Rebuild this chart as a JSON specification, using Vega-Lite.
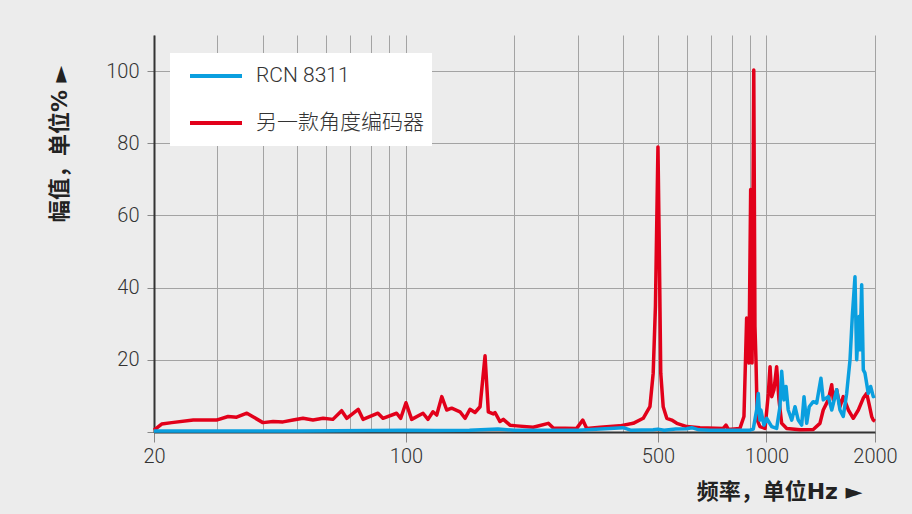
{
  "$schema": "https://vega.github.io/schema/vega-lite/v6.json",
  "width": 721,
  "height": 397,
  "autosize": {"type": "none"},
  "padding": {"left": 154, "top": 35, "right": 37, "bottom": 82},
  "background": "#ececec",
  "config": {
    "font": "Roboto, Noto Sans CJK SC",
    "view": {"stroke": null},
    "axis": {"gridColor": "#a3a3a3", "gridWidth": 1, "gridOpacity": 1, "domainColor": "#333333", "domainWidth": 2, "tickColor": "#888888", "labelFontSize": 20, "labelFontWeight": 300, "labelColor": "#333333", "labelFont": "Roboto, Noto Sans CJK SC", "titleFont": "DejaVu Sans, Noto Sans CJK SC", "titleFontSize": 22, "titleFontWeight": "bold", "titleColor": "#222222"}
  },
  "data": {"values": [
    {"f":20,"a":0.5,"s":"另一款角度编码器"},{"f":21,"a":2.2,"s":"另一款角度编码器"},{"f":22.4,"a":2.6,"s":"另一款角度编码器"},{"f":25.7,"a":3.3,"s":"另一款角度编码器"},{"f":29.8,"a":3.3,"s":"另一款角度编码器"},{"f":32.1,"a":4.3,"s":"另一款角度编码器"},{"f":33.9,"a":4.1,"s":"另一款角度编码器"},{"f":36.2,"a":5.2,"s":"另一款角度编码器"},{"f":40.1,"a":2.6,"s":"另一款角度编码器"},{"f":42.8,"a":2.9,"s":"另一款角度编码器"},{"f":45.6,"a":2.8,"s":"另一款角度编码器"},{"f":48.6,"a":3.3,"s":"另一款角度编码器"},{"f":51.8,"a":3.8,"s":"另一款角度编码器"},{"f":55.2,"a":3.3,"s":"另一款角度编码器"},{"f":58.9,"a":3.8,"s":"另一款角度编码器"},{"f":62.7,"a":3.5,"s":"另一款角度编码器"},{"f":66.3,"a":5.9,"s":"另一款角度编码器"},{"f":68.5,"a":3.8,"s":"另一款角度编码器"},{"f":73.7,"a":6.3,"s":"另一款角度编码器"},{"f":76,"a":3.5,"s":"另一款角度编码器"},{"f":83.6,"a":5.2,"s":"另一款角度编码器"},{"f":86.3,"a":3.8,"s":"另一款角度编码器"},{"f":94.2,"a":5.2,"s":"另一款角度编码器"},{"f":96.7,"a":3.8,"s":"另一款角度编码器"},{"f":100,"a":8.1,"s":"另一款角度编码器"},{"f":103.7,"a":3.5,"s":"另一款角度编码器"},{"f":111.5,"a":5.2,"s":"另一款角度编码器"},{"f":115.1,"a":3.5,"s":"另一款角度编码器"},{"f":118.8,"a":5.6,"s":"另一款角度编码器"},{"f":121.7,"a":4.7,"s":"另一款角度编码器"},{"f":125.7,"a":9.8,"s":"另一款角度编码器"},{"f":129.7,"a":6.1,"s":"另一款角度编码器"},{"f":133.9,"a":6.6,"s":"另一款角度编码器"},{"f":141.2,"a":5.6,"s":"另一款角度编码器"},{"f":145.8,"a":3.8,"s":"另一款角度编码器"},{"f":150.5,"a":6.3,"s":"另一款角度编码器"},{"f":155.4,"a":5.4,"s":"另一款角度编码器"},{"f":160.5,"a":7.0,"s":"另一款角度编码器"},{"f":165.7,"a":21.1,"s":"另一款角度编码器"},{"f":169.2,"a":5.6,"s":"另一款角度编码器"},{"f":174.7,"a":5.0,"s":"另一款角度编码器"},{"f":176.6,"a":5.4,"s":"另一款角度编码器"},{"f":182.3,"a":2.9,"s":"另一款角度编码器"},{"f":186.2,"a":3.5,"s":"另一款角度编码器"},{"f":194.3,"a":1.9,"s":"另一款角度编码器"},{"f":202.8,"a":1.7,"s":"另一款角度编码器"},{"f":225.4,"a":1.3,"s":"另一款角度编码器"},{"f":248.2,"a":2.4,"s":"另一款角度编码器"},{"f":256.2,"a":1.1,"s":"另一款角度编码器"},{"f":297.6,"a":1.0,"s":"另一款角度编码器"},{"f":309.3,"a":3.3,"s":"另一款角度编码器"},{"f":317.2,"a":1.0,"s":"另一款角度编码器"},{"f":345.5,"a":1.3,"s":"另一款角度编码器"},{"f":392,"a":1.7,"s":"另一款角度编码器"},{"f":427,"a":2.4,"s":"另一款角度编码器"},{"f":455,"a":3.8,"s":"另一款角度编码器"},{"f":475,"a":7.0,"s":"另一款角度编码器"},{"f":485,"a":16.3,"s":"另一款角度编码器"},{"f":492,"a":34.8,"s":"另一款角度编码器"},{"f":500,"a":79,"s":"另一款角度编码器"},{"f":504,"a":53,"s":"另一款角度编码器"},{"f":509,"a":16.3,"s":"另一款角度编码器"},{"f":517,"a":7.0,"s":"另一款角度编码器"},{"f":529,"a":3.8,"s":"另一款角度编码器"},{"f":546,"a":3.3,"s":"另一款角度编码器"},{"f":564,"a":2.4,"s":"另一款角度编码器"},{"f":601,"a":1.5,"s":"另一款角度编码器"},{"f":654,"a":1.2,"s":"另一款角度编码器"},{"f":759,"a":1.0,"s":"另一款角度编码器"},{"f":772,"a":1.9,"s":"另一款角度编码器"},{"f":784,"a":0.7,"s":"另一款角度编码器"},{"f":844,"a":1.0,"s":"另一款角度编码器"},{"f":866,"a":4.3,"s":"另一款角度编码器"},{"f":881,"a":31.6,"s":"另一款角度编码器"},{"f":894,"a":19.1,"s":"另一款角度编码器"},{"f":904,"a":67.2,"s":"另一款角度编码器"},{"f":912,"a":19.1,"s":"另一款角度编码器"},{"f":922,"a":100.3,"s":"另一款角度编码器"},{"f":929,"a":29.3,"s":"另一款角度编码器"},{"f":935,"a":20,"s":"另一款角度编码器"},{"f":943,"a":3.3,"s":"另一款角度编码器"},{"f":959,"a":1.5,"s":"另一款角度编码器"},{"f":991,"a":1.0,"s":"另一款角度编码器"},{"f":1012,"a":10.7,"s":"另一款角度编码器"},{"f":1023,"a":18.1,"s":"另一款角度编码器"},{"f":1034,"a":9.8,"s":"另一款角度编码器"},{"f":1049,"a":11.7,"s":"另一款角度编码器"},{"f":1067,"a":18.1,"s":"另一款角度编码器"},{"f":1083,"a":8.9,"s":"另一款角度编码器"},{"f":1102,"a":2.4,"s":"另一款角度编码器"},{"f":1138,"a":1.0,"s":"另一款角度编码器"},{"f":1239,"a":0.6,"s":"另一款角度编码器"},{"f":1348,"a":0.7,"s":"另一款角度编码器"},{"f":1407,"a":2.4,"s":"另一款角度编码器"},{"f":1437,"a":6.1,"s":"另一款角度编码器"},{"f":1484,"a":8.9,"s":"另一款角度编码器"},{"f":1517,"a":13.1,"s":"另一款角度编码器"},{"f":1532,"a":8.9,"s":"另一款角度编码器"},{"f":1566,"a":11.7,"s":"另一款角度编码器"},{"f":1599,"a":7.0,"s":"另一款角度编码器"},{"f":1633,"a":9.8,"s":"另一款角度编码器"},{"f":1687,"a":6.1,"s":"另一款角度编码器"},{"f":1741,"a":3.8,"s":"另一款角度编码器"},{"f":1798,"a":6.1,"s":"另一款角度编码器"},{"f":1856,"a":9.4,"s":"另一款角度编码器"},{"f":1897,"a":10.7,"s":"另一款角度编码器"},{"f":1928,"a":7.5,"s":"另一款角度编码器"},{"f":1958,"a":4.3,"s":"另一款角度编码器"},{"f":1978,"a":3.3,"s":"另一款角度编码器"},{"f":2000,"a":3.0,"s":"另一款角度编码器"},
    {"f":20,"a":0.3,"s":"RCN 8311"},{"f":30,"a":0.3,"s":"RCN 8311"},{"f":50,"a":0.3,"s":"RCN 8311"},{"f":80,"a":0.4,"s":"RCN 8311"},{"f":100,"a":0.5,"s":"RCN 8311"},{"f":120,"a":0.4,"s":"RCN 8311"},{"f":150,"a":0.5,"s":"RCN 8311"},{"f":180,"a":0.8,"s":"RCN 8311"},{"f":200,"a":0.5,"s":"RCN 8311"},{"f":300,"a":0.5,"s":"RCN 8311"},{"f":400,"a":1.2,"s":"RCN 8311"},{"f":420,"a":0.5,"s":"RCN 8311"},{"f":485,"a":0.6,"s":"RCN 8311"},{"f":500,"a":0.8,"s":"RCN 8311"},{"f":520,"a":0.5,"s":"RCN 8311"},{"f":560,"a":0.8,"s":"RCN 8311"},{"f":600,"a":0.9,"s":"RCN 8311"},{"f":620,"a":1.2,"s":"RCN 8311"},{"f":650,"a":0.6,"s":"RCN 8311"},{"f":700,"a":0.5,"s":"RCN 8311"},{"f":800,"a":0.5,"s":"RCN 8311"},{"f":900,"a":0.5,"s":"RCN 8311"},{"f":919,"a":0.8,"s":"RCN 8311"},{"f":939,"a":6.1,"s":"RCN 8311"},{"f":949,"a":10.7,"s":"RCN 8311"},{"f":959,"a":3.3,"s":"RCN 8311"},{"f":965,"a":6.1,"s":"RCN 8311"},{"f":984,"a":1.9,"s":"RCN 8311"},{"f":1001,"a":3.8,"s":"RCN 8311"},{"f":1034,"a":1.5,"s":"RCN 8311"},{"f":1067,"a":1.0,"s":"RCN 8311"},{"f":1090,"a":7.0,"s":"RCN 8311"},{"f":1102,"a":16.8,"s":"RCN 8311"},{"f":1118,"a":8.9,"s":"RCN 8311"},{"f":1133,"a":12.6,"s":"RCN 8311"},{"f":1149,"a":6.1,"s":"RCN 8311"},{"f":1175,"a":3.3,"s":"RCN 8311"},{"f":1200,"a":7.0,"s":"RCN 8311"},{"f":1225,"a":3.3,"s":"RCN 8311"},{"f":1252,"a":1.9,"s":"RCN 8311"},{"f":1271,"a":9.8,"s":"RCN 8311"},{"f":1293,"a":2.4,"s":"RCN 8311"},{"f":1314,"a":7.0,"s":"RCN 8311"},{"f":1348,"a":8.4,"s":"RCN 8311"},{"f":1378,"a":8.0,"s":"RCN 8311"},{"f":1416,"a":14.9,"s":"RCN 8311"},{"f":1437,"a":8.9,"s":"RCN 8311"},{"f":1484,"a":9.8,"s":"RCN 8311"},{"f":1517,"a":6.1,"s":"RCN 8311"},{"f":1566,"a":11.7,"s":"RCN 8311"},{"f":1599,"a":6.1,"s":"RCN 8311"},{"f":1633,"a":4.3,"s":"RCN 8311"},{"f":1669,"a":10.7,"s":"RCN 8311"},{"f":1705,"a":20,"s":"RCN 8311"},{"f":1730,"a":32,"s":"RCN 8311"},{"f":1760,"a":43,"s":"RCN 8311"},{"f":1779,"a":20,"s":"RCN 8311"},{"f":1806,"a":32,"s":"RCN 8311"},{"f":1817,"a":22.8,"s":"RCN 8311"},{"f":1837,"a":40.8,"s":"RCN 8311"},{"f":1856,"a":17.2,"s":"RCN 8311"},{"f":1876,"a":16.3,"s":"RCN 8311"},{"f":1916,"a":10.7,"s":"RCN 8311"},{"f":1945,"a":12.6,"s":"RCN 8311"},{"f":1978,"a":9.8,"s":"RCN 8311"},{"f":2000,"a":10,"s":"RCN 8311"}
  ]},
  "resolve": {"axis": {"x": "independent", "y": "independent"}},
  "layer": [
    {"transform": [{"filter": "datum.s == '另一款角度编码器'"}],
     "mark": {"type": "line", "strokeWidth": 3.5, "strokeJoin": "round"},
     "encoding": {
       "x": {"field": "f", "type": "quantitative", "scale": {"type": "log", "domain": [20, 2000], "nice": false},
         "axis": {"orient": "bottom", "values": [20,30,40,50,60,70,80,90,100,200,300,400,500,600,700,800,900,1000,2000], "grid": true, "gridColor": "#a3a3a3", "labels": false, "ticks": false, "domain": false, "title": null}},
       "y": {"field": "a", "type": "quantitative", "scale": {"domain": [0, 110], "nice": false},
         "axis": {"orient": "left", "values": [20, 40, 60, 80, 100], "grid": true, "gridColor": "#a3a3a3", "labels": false, "ticks": false, "domain": false, "title": null}},
       "color": {"field": "s", "type": "nominal",
         "scale": {"domain": ["RCN 8311", "另一款角度编码器"], "range": ["#0a9fdf", "#e2001a"]},
         "legend": {"title": null, "orient": "none", "legendX": 16, "legendY": 18, "fillColor": "white", "padding": 8, "clipHeight": 30, "rowPadding": 17, "symbolType": "stroke", "symbolSize": 2704, "symbolStrokeWidth": 4, "symbolOffset": 10, "labelFontSize": 21, "labelFontWeight": 300, "labelLimit": 400, "labelColor": "#333333", "labelFont": "Roboto, Noto Sans CJK SC", "labelOffset": 12}}
     }},
    {"transform": [{"filter": "datum.s == 'RCN 8311'"}],
     "mark": {"type": "line", "strokeWidth": 3.5, "strokeJoin": "round"},
     "encoding": {
       "x": {"field": "f", "type": "quantitative",
         "axis": {"orient": "bottom", "values": [20, 100, 500, 1000, 2000], "format": "d", "grid": false, "tickSize": 10, "labelPadding": 4, "labelFlush": false,
           "title": "频率，单位Hz  ►", "titleAnchor": "end", "titleAlign": "right", "titleX": 708, "titleY": 59, "titleBaseline": "middle"}},
       "y": {"field": "a", "type": "quantitative",
         "axis": {"orient": "left", "values": [0, 20, 40, 60, 80, 100], "grid": false, "tickSize": 7, "labelPadding": 8, "labelExpr": "datum.value == 0 ? '' : datum.label",
           "title": "幅值，单位%  ►", "titleAnchor": "end", "titleAlign": "right", "titleAngle": -90, "titleX": -83, "titleY": 30, "titleBaseline": "bottom"}},
       "color": {"field": "s", "type": "nominal"}
     }}
  ]
}
